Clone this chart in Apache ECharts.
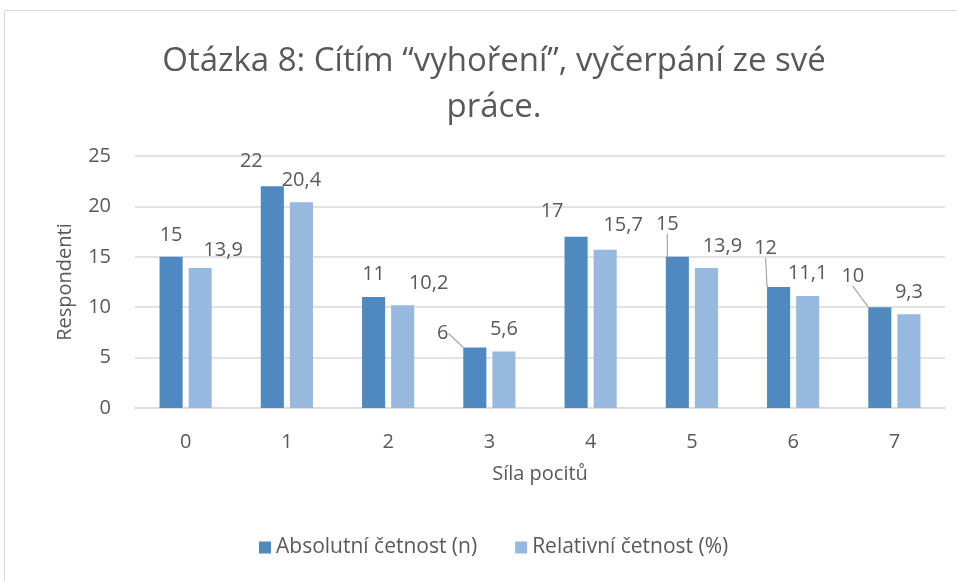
<!DOCTYPE html>
<html>
<head>
<meta charset="utf-8">
<script src="https://cdn.jsdelivr.net/npm/echarts@6/dist/echarts.min.js"></script>
<style>
  html, body { margin: 0; padding: 0; background: #fff; }
  #chart { width: 957px; height: 581px; }
</style>
</head>
<body>
<div id="chart"></div>
<script>
// data
var categories = ['0', '1', '2', '3', '4', '5', '6', '7'];
var absolutni = [15, 22, 11, 6, 17, 15, 12, 10];
var relativni = [13.9, 20.4, 10.2, 5.6, 15.7, 13.9, 11.1, 9.3];
var seriesNames = ['Absolutní četnost (n)', 'Relativní četnost (%)'];

// label shifts (moved data labels, like in excel)
var absShift = [[0, 0], [-21, -3], [0, -1], [-32, 8], [-24, -3], [-10, -11], [-13, -17], [-27, -9]];
var relShift = [[23, 4], [0, 0], [26, 0], [0, 0], [18, -2], [16, 0], [0, -1], [0, 0]];
var absLine = [false, false, false, true, false, true, true, true];

var font = '"Open Sans", "Noto Sans", sans-serif';
var txt = '#595959';
var fs = 20;

var chart = echarts.init(document.getElementById('chart'));

function fmt(v) {
  return String(v).replace('.', ',');
}

var option = {
  animation: false,
  textStyle: { fontFamily: font },
  color: ['#4f89bf', '#98b9df'],
  title: {
    text: 'Otázka 8: Cítím “vyhoření”, vyčerpání ze své\npráce.',
    left: 489,
    top: 34,
    textAlign: 'center',
    textStyle: { fontFamily: font, fontSize: 33, fontWeight: 'normal', color: txt, lineHeight: 46 }
  },
  legend: {
    bottom: 18,
    left: 254,
    itemWidth: 12,
    itemHeight: 12,
    itemGap: 38,
    icon: 'rect',
    textStyle: { fontFamily: font, fontSize: 21, color: txt },
    data: seriesNames
  },
  graphic: [{
    type: 'rect',
    shape: { x: 4.5, y: 10.5, width: 960, height: 600 },
    style: { fill: 'none', stroke: '#d9d9d9', lineWidth: 1 },
    silent: true
  }],
  grid: { left: 135, right: 12, top: 156, bottom: 173 },
  xAxis: {
    type: 'category',
    data: categories,
    name: 'Síla pocitů',
    nameLocation: 'middle',
    nameGap: 56,
    nameTextStyle: { fontFamily: font, fontSize: fs, color: txt },
    axisLine: { lineStyle: { color: '#d9d9d9', width: 1.5 } },
    axisTick: { show: false },
    axisLabel: { fontFamily: font, fontSize: fs, color: txt, margin: 24 }
  },
  yAxis: {
    type: 'value',
    min: 0,
    max: 25,
    interval: 5,
    name: 'Respondenti',
    nameLocation: 'middle',
    nameGap: 60,
    nameTextStyle: { fontFamily: font, fontSize: fs, color: txt },
    axisLabel: { fontFamily: font, fontSize: fs, color: txt, margin: 24 },
    splitLine: { lineStyle: { color: '#d9d9d9', width: 1.5 } }
  },
  series: [
    {
      name: seriesNames[0],
      type: 'bar',
      barWidth: '22.8%',
      barGap: '26%',
      data: absolutni.map(function (v, i) {
        return { value: v, labelLine: { show: absLine[i] } };
      }),
      label: {
        show: true, position: 'top', distance: 12,
        fontFamily: font, fontSize: fs, color: txt,
        formatter: function (p) { return fmt(p.value); }
      },
      labelLine: { lineStyle: { color: '#a6a6a6', width: 1.2 } },
      labelLayout: function (p) {
        return { dx: absShift[p.dataIndex][0], dy: absShift[p.dataIndex][1] };
      }
    },
    {
      name: seriesNames[1],
      type: 'bar',
      barWidth: '22.8%',
      data: relativni,
      label: {
        show: true, position: 'top', distance: 12,
        fontFamily: font, fontSize: fs, color: txt,
        formatter: function (p) { return fmt(p.value); }
      },
      labelLayout: function (p) {
        return { dx: relShift[p.dataIndex][0], dy: relShift[p.dataIndex][1] };
      }
    }
  ]
};

chart.setOption(option);
</script>
</body>
</html>
